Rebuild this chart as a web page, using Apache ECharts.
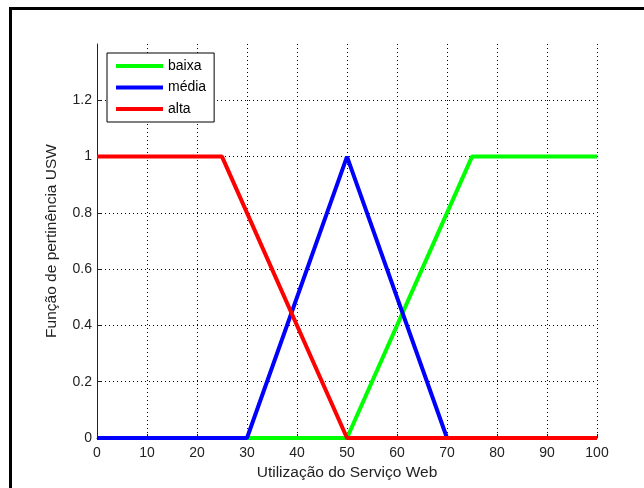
<!DOCTYPE html>
<html>
<head>
<meta charset="utf-8">
<script src="https://cdn.jsdelivr.net/npm/echarts@6/dist/echarts.min.js"></script>
<style>html,body{margin:0;padding:0;background:#fff}#c{width:644px;height:488px}</style>
</head>
<body>
<div id="c"></div>
<script>
const seriesNames = ['baixa', 'média', 'alta'];
const baixaX = [0, 50, 75, 100];
const baixaY = [0, 0, 1, 1];
const mediaX = [0, 30, 50, 70, 100];
const mediaY = [0, 0, 1, 0, 0];
const altaX = [0, 25, 50, 100];
const altaY = [1, 1, 0, 0];
const colors = ['#00ff00', '#0000ff', '#ff0000'];
const xTitle = 'Utilização do Serviço Web';
const yTitle = 'Função de pertinência USW';

function pairs(xs, ys) { return xs.map((x, i) => [x, ys[i]]); }

const chart = echarts.init(document.getElementById('c'), null, {renderer: 'canvas'});
const font = 'Liberation Sans, Arial, sans-serif';
const gridLine = {show: true, lineStyle: {color: '#000', type: [1, 3], width: 1}};
chart.setOption({
  animation: false,
  backgroundColor: '#fff',
  graphic: [{
    type: 'rect',
    shape: {x: 10.5, y: 8.5, width: 700, height: 600},
    style: {fill: 'none', stroke: '#000', lineWidth: 3},
    silent: true
  }],
  grid: {left: 97, right: 47, top: 44, bottom: 50},
  xAxis: {
    type: 'value', min: 0, max: 100, interval: 10,
    name: xTitle, nameLocation: 'middle', nameGap: 23,
    nameTextStyle: {fontFamily: font, fontSize: 15.5, color: '#222'},
    axisLine: {lineStyle: {color: '#222', width: 1}},
    axisTick: {inside: true, length: 4, lineStyle: {color: '#222'}},
    axisLabel: {fontFamily: font, fontSize: 14, color: '#222', margin: 8},
    splitLine: gridLine
  },
  yAxis: {
    type: 'value', min: 0, max: 1.4, interval: 0.2,
    name: yTitle, nameLocation: 'middle', nameGap: 37,
    nameTextStyle: {fontFamily: font, fontSize: 15.5, color: '#222'},
    axisLine: {show: true, lineStyle: {color: '#222', width: 1}},
    axisTick: {show: true, inside: true, length: 4, lineStyle: {color: '#222'}},
    axisLabel: {fontFamily: font, fontSize: 14, color: '#222', margin: 5, showMaxLabel: false,
      formatter: v => String(Math.round(v * 10) / 10)},
    splitLine: {show: true, lineStyle: {color: ['#000','#000','#000','#000','#000','#000','#000','rgba(0,0,0,0)'], type: [1, 3], width: 1}}
  },
  legend: {
    orient: 'vertical', left: 107, top: 53,
    data: seriesNames,
    icon: 'rect', itemWidth: 47, itemHeight: 4, itemGap: 7.5,
    backgroundColor: '#fff', borderColor: '#000', borderWidth: 1,
    padding: [6, 8, 6, 9],
    textStyle: {fontFamily: font, fontSize: 14, color: '#000'}
  },
  series: [
    {name: seriesNames[0], type: 'line', data: pairs(baixaX, baixaY), symbol: 'none', lineStyle: {width: 4, color: colors[0]}, itemStyle: {color: colors[0]}, z: 2},
    {name: seriesNames[1], type: 'line', data: pairs(mediaX, mediaY), symbol: 'none', lineStyle: {width: 4, color: colors[1]}, itemStyle: {color: colors[1]}, z: 3},
    {name: seriesNames[2], type: 'line', data: pairs(altaX, altaY), symbol: 'none', lineStyle: {width: 4, color: colors[2]}, itemStyle: {color: colors[2]}, z: 4}
  ]
});
</script>
</body>
</html>
